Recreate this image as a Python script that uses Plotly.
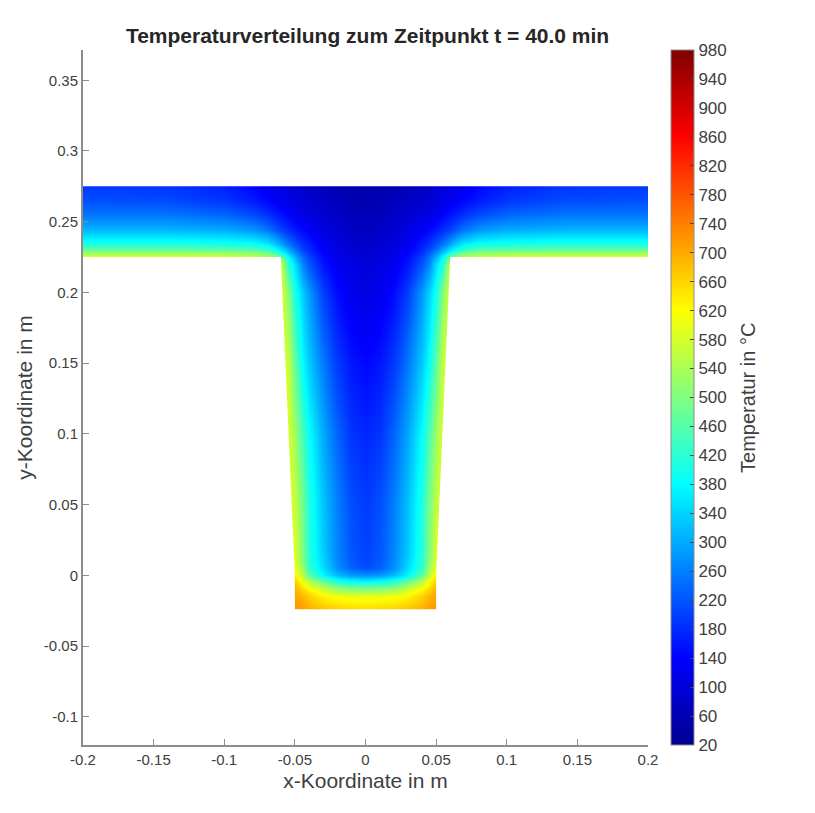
import plotly.graph_objects as go

# x positions of the table columns (m)
x_coord = [-0.2, -0.14, -0.1, -0.08, -0.07, -0.065, -0.06, -0.055, -0.05, -0.045, -0.04, -0.03, -0.02, -0.01, 0,
           0.01, 0.02, 0.03, 0.04, 0.045, 0.05, 0.055, 0.06, 0.065, 0.07, 0.08, 0.1, 0.14, 0.2]

y_coord = [-0.024, -0.02, -0.015, -0.01, -0.005, 0, 0.005, 0.01, 0.02, 0.05, 0.1, 0.15, 0.2, 0.22, 0.225,
           0.23, 0.235, 0.245, 0.255, 0.265, 0.275]

N = None

# temperature, one row per y_coord
temperature = [
    [N, N, N, N, N, N, N, N, 720, 710, 695, 680, 665, 658, 655, 658, 665, 680, 695, 710, 720, N, N, N, N, N, N, N, N],
    [N, N, N, N, N, N, N, N, 715, 700, 680, 655, 640, 635, 632, 635, 640, 655, 680, 700, 715, N, N, N, N, N, N, N, N],
    [N, N, N, N, N, N, N, N, 705, 690, 665, 630, 610, 602, 600, 602, 610, 630, 665, 690, 705, N, N, N, N, N, N, N, N],
    [N, N, N, N, N, N, N, N, 690, 660, 625, 575, 530, 515, 510, 515, 530, 575, 625, 660, 690, N, N, N, N, N, N, N, N],
    [N, N, N, N, N, N, N, N, 670, 625, 565, 490, 430, 405, 395, 405, 430, 490, 565, 625, 670, N, N, N, N, N, N, N, N],
    [N, N, N, N, N, N, N, N, 640, 560, 470, 375, 320, 290, 280, 290, 320, 375, 470, 560, 640, N, N, N, N, N, N, N, N],
    [N, N, N, N, N, N, N, 600, 600, 530, 430, 350, 280, 235, 215, 235, 280, 350, 430, 530, 600, 600, N, N, N, N, N, N, N],
    [N, N, N, N, N, N, N, 595, 595, 510, 420, 340, 270, 225, 205, 225, 270, 340, 420, 510, 595, 595, N, N, N, N, N, N, N],
    [N, N, N, N, N, N, N, 590, 585, 500, 415, 330, 265, 220, 200, 220, 265, 330, 415, 500, 585, 590, N, N, N, N, N, N, N],
    [N, N, N, N, N, N, N, 590, 565, 490, 410, 325, 260, 215, 195, 215, 260, 325, 410, 490, 565, 590, N, N, N, N, N, N, N],
    [N, N, N, N, N, N, N, 585, 530, 450, 385, 300, 235, 190, 175, 190, 235, 300, 385, 450, 530, 585, N, N, N, N, N, N, N],
    [N, N, N, N, N, N, 590, 570, 470, 385, 330, 255, 195, 160, 145, 160, 195, 255, 330, 385, 470, 570, 590, N, N, N, N, N, N],
    [N, N, N, N, N, N, 590, 510, 400, 340, 285, 200, 150, 122, 112, 122, 150, 200, 285, 340, 400, 510, 590, N, N, N, N, N, N],
    [N, N, N, N, N, N, 580, 420, 350, 270, 220, 160, 125, 108, 100, 108, 125, 160, 220, 270, 350, 420, 580, N, N, N, N, N, N],
    [595, 595, 590, 585, 570, 545, 480, 390, 310, 250, 205, 150, 120, 105, 97, 105, 120, 150, 205, 250, 310, 390, 480, 545, 570, 585, 590, 595, 595],
    [485, 485, 480, 470, 440, 405, 360, 305, 255, 210, 180, 135, 110, 95, 88, 95, 110, 135, 180, 210, 255, 305, 360, 405, 440, 470, 480, 485, 485],
    [400, 400, 395, 385, 360, 330, 290, 250, 215, 185, 165, 125, 105, 90, 85, 90, 105, 125, 165, 185, 215, 250, 290, 330, 360, 385, 395, 400, 400],
    [310, 310, 300, 280, 250, 225, 200, 180, 160, 145, 130, 108, 92, 80, 72, 80, 92, 108, 130, 145, 160, 180, 200, 225, 250, 280, 300, 310, 310],
    [250, 250, 235, 210, 185, 170, 155, 140, 125, 115, 105, 90, 80, 70, 65, 70, 80, 90, 105, 115, 125, 140, 155, 170, 185, 210, 235, 250, 250],
    [215, 210, 190, 165, 145, 135, 125, 115, 105, 95, 88, 78, 68, 60, 55, 60, 68, 78, 88, 95, 105, 115, 125, 135, 145, 165, 190, 210, 215],
    [195, 190, 170, 145, 125, 115, 108, 100, 92, 85, 80, 70, 62, 55, 52, 55, 62, 70, 80, 85, 92, 100, 108, 115, 125, 145, 170, 190, 195],
]

# area outside the T profile, left white
outside_x = [-0.2, 0.2, 0.2, -0.2, -0.2, None,
             -0.2, -0.06, -0.05, -0.05, 0.05, 0.05, 0.06, 0.2, 0.2, -0.2, -0.2]
outside_y = [0.372, 0.372, 0.275, 0.275, 0.372, None,
             0.225, 0.225, 0, -0.024, -0.024, 0, 0.225, 0.225, -0.12, -0.12, 0.225]

x_ticks = [-0.2, -0.15, -0.1, -0.05, 0, 0.05, 0.1, 0.15, 0.2]
x_labels = ["-0.2", "-0.15", "-0.1", "-0.05", "0", "0.05", "0.1", "0.15", "0.2"]
y_ticks = [-0.1, -0.05, 0, 0.05, 0.1, 0.15, 0.2, 0.25, 0.3, 0.35]
y_labels = ["-0.1", "-0.05", "0", "0.05", "0.1", "0.15", "0.2", "0.25", "0.3", "0.35"]
cbar_ticks = list(range(20, 981, 40))

jet = [
    [0, "rgb(0,0,143)"],
    [0.125, "rgb(0,0,255)"],
    [0.375, "rgb(0,255,255)"],
    [0.625, "rgb(255,255,0)"],
    [0.875, "rgb(255,0,0)"],
    [1, "rgb(128,0,0)"],
]

FONT = "Liberation Sans, Arial, sans-serif"
AXIS_GREY = "#8c8c8c"
TEXT = "#404040"

fig = go.Figure()

fig.add_trace(go.Heatmap(
    x=x_coord,
    y=y_coord,
    z=temperature,
    zmin=20,
    zmax=980,
    zsmooth="best",
    colorscale=jet,
    hoverongaps=False,
    colorbar=dict(
        x=1.04,
        xanchor="left",
        y=0.5,
        len=1,
        thickness=23,
        thicknessmode="pixels",
        tickvals=cbar_ticks,
        ticks="inside",
        ticklen=4,
        tickcolor="#444444",
        tickprefix="\u2005",
        outlinecolor=AXIS_GREY,
        outlinewidth=1,
        xpad=0,
        ypad=0,
        tickfont=dict(family=FONT, size=17, color=TEXT),
    ),
))

fig.add_trace(go.Scatter(
    x=outside_x,
    y=outside_y,
    mode="lines",
    fill="toself",
    fillcolor="white",
    line=dict(width=0, color="white"),
    hoverinfo="skip",
    showlegend=False,
))

fig.update_layout(
    width=799,
    height=797,
    margin=dict(l=75, r=159, t=42, b=60),
    paper_bgcolor="white",
    plot_bgcolor="white",
    font=dict(family=FONT, color=TEXT),
    title=dict(
        text="<b>Temperaturverteilung zum Zeitpunkt t = 40.0 min</b>",
        x=0.45,
        xanchor="center",
        y=0.965,
        yanchor="middle",
        font=dict(family=FONT, size=21, color="#262626"),
    ),
    xaxis=dict(
        range=[-0.2, 0.2],
        tickvals=x_ticks,
        ticktext=x_labels,
        ticks="inside",
        ticklen=6,
        tickcolor=AXIS_GREY,
        showline=True,
        linecolor=AXIS_GREY,
        linewidth=2,
        showgrid=False,
        zeroline=False,
        tickfont=dict(size=15),
        title=dict(text="x-Koordinate in m", font=dict(size=21), standoff=6),
    ),
    yaxis=dict(
        range=[-0.12, 0.3714],
        tickvals=y_ticks,
        ticktext=y_labels,
        ticks="inside",
        ticklen=6,
        tickcolor=AXIS_GREY,
        showline=True,
        linecolor=AXIS_GREY,
        linewidth=2,
        showgrid=False,
        zeroline=False,
        tickfont=dict(size=15),
        title=dict(text="y-Koordinate in m", font=dict(size=21), standoff=5),
    ),
    annotations=[dict(
        text="Temperatur in °C",
        xref="paper",
        yref="paper",
        x=1.199,
        y=0.5,
        textangle=-90,
        showarrow=False,
        font=dict(family=FONT, size=20, color=TEXT),
    )],
)

fig.write_html("out.html")
